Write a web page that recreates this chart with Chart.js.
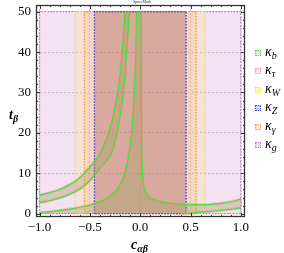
<!DOCTYPE html>
<html><head><meta charset="utf-8">
<script src="https://cdn.jsdelivr.net/npm/chart.js@4.4.1/dist/chart.umd.min.js"></script>
<style>
html,body{margin:0;padding:0;background:#fff;}
#wrap{position:relative;width:284px;height:253px;overflow:hidden;}
canvas{position:absolute;left:0;top:0;}
.lbl{position:absolute;font-family:"Liberation Serif","DejaVu Serif",serif;font-style:italic;font-weight:bold;color:#000;white-space:nowrap;line-height:1;font-size:14px;}
.lbl sub{font-size:10px;vertical-align:-3px;}
#title{position:absolute;left:0;width:284px;top:0;text-align:center;font-family:"Liberation Serif",serif;font-size:4px;line-height:4px;color:#333;}
#legend{position:absolute;left:254px;top:0;width:30px;height:253px;}
.li{position:absolute;left:0;height:14px;width:30px;font-family:"Liberation Serif",serif;font-style:italic;font-size:14px;line-height:14px;color:#000;white-space:nowrap;}
.sw{position:absolute;left:1px;top:5px;width:4px;height:4px;border:1px dotted;}
.tx{position:absolute;left:11px;top:0;}
.tx sub{font-size:10px;vertical-align:-3px;}
</style></head>
<body><div id="wrap"><canvas id="c" width="284" height="253"></canvas>
<div id="title">SpaceMath</div>
<div class="lbl" style="left:9px;top:108px;">t<sub>β</sub></div>
<div class="lbl" style="left:131px;top:238px;">c<sub>αβ</sub></div>
<div id="legend"></div></div>
<script>
// ---- tick labels ----
const xTicks = [-1, -0.5, 0, 0.5, 1];
const yTicks = [0, 10, 20, 30, 40, 50];

// ---- vertical band limits (c_αβ) and tβ range ----
const tRange = [0, 50];
const kgRange = [-1, 1];          // κ_g
const kWRange = [-0.645, 0.645];  // κ_W
const kGammaRange = [-0.555, 0.555]; // κ_γ
const kZRange = [-0.455, 0.455];  // κ_Z

// ---- κ_b / κ_τ wrong-sign band (left) ----
const bandAUpperC = [-1.0, -0.9, -0.8, -0.7, -0.6, -0.5, -0.4, -0.32, -0.27, -0.224, -0.2, -0.18, -0.163, -0.15];
const bandAUpperT = [4.6, 5.2, 6.0, 7.2, 8.9, 11.6, 14.8, 19.5, 24, 30, 34.5, 40, 45, 50];
const bandALowerC = [-1.0, -0.9, -0.8, -0.7, -0.6, -0.5, -0.456, -0.4, -0.3, -0.24, -0.2, -0.169, -0.15, -0.135, -0.12, -0.109];
const bandALowerT = [2.7, 3.2, 3.9, 4.8, 6.1, 8.2, 9.5, 11.3, 14.2, 19, 24, 30, 34.5, 40, 45, 50];

// ---- κ_b / κ_τ central band ----
const bandBLeftC = [-1.0, -0.9, -0.8, -0.7, -0.6, -0.5, -0.45, -0.4, -0.35, -0.3, -0.25, -0.2, -0.16, -0.12, -0.09, -0.07, -0.055, -0.045, -0.035];
const bandBLeftT = [0.3, 0.5, 0.8, 1.15, 1.6, 2.15, 2.6, 3.0, 3.5, 4.3, 5.4, 7.2, 9.5, 13.5, 19, 25, 32, 40, 50];
const bandBRightC = [0.008, 0.01, 0.012, 0.015, 0.02, 0.03, 0.045, 0.07, 0.1, 0.15, 0.2, 0.3, 0.45, 0.6, 0.7, 0.8, 0.9, 1.0];
const bandBRightT = [50, 35, 25, 17, 11.5, 7.8, 5.8, 4.6, 3.9, 3.3, 3.0, 2.55, 2.3, 2.2, 2.3, 2.55, 2.95, 3.6];
const bandBBottomC = [1.0, 0.9, 0.8, 0.7, 0.6, 0.5, 0.42];
const bandBBottomT = [1.45, 1.1, 0.8, 0.55, 0.33, 0.15, 0];

// ---- legend ----
const legendSubs = ['b', 'τ', 'W', 'Z', 'γ', 'g'];
const legendBorder = ['rgb(80,220,70)', 'rgb(255,150,150)', 'rgb(245,225,60)', 'rgb(70,70,240)', 'rgb(255,160,70)', 'rgb(200,120,210)'];
const legendFill = ['rgba(80,220,70,0.25)', 'rgba(255,150,150,0.25)', 'rgba(245,225,60,0.25)', 'rgba(70,70,240,0.25)', 'rgba(255,160,70,0.25)', 'rgba(200,120,210,0.25)'];

// ---- helpers ----
const pts = (cs, ts) => cs.map((c, i) => ({x: c, y: ts[i]}));
const rect = (r) => [{x: r[0], y: tRange[0]}, {x: r[0], y: tRange[1]}, {x: r[1], y: tRange[1]}, {x: r[1], y: tRange[0]}, {x: r[0], y: tRange[0]}];
const bandA = pts(bandAUpperC, bandAUpperT).concat(pts(bandALowerC, bandALowerT).reverse());
bandA.push(bandA[0]);
const bandB = [{x: kgRange[0], y: tRange[0]}]
  .concat(pts(bandBLeftC, bandBLeftT), pts(bandBRightC, bandBRightT), pts(bandBBottomC, bandBBottomT));
bandB.push(bandB[0]);

const region = (data, fill, border, order, dash) => ({
  data, fill: 'shape', backgroundColor: fill, borderColor: border, borderWidth: 1.3,
  borderDash: dash, pointRadius: 0, tension: 0, order
});
const curve = (data, color, w, order, dash) => ({
  data, fill: false, borderColor: color, borderWidth: w, borderDash: dash || [],
  pointRadius: 0, tension: 0.3, order
});

const dot = [1.5, 1.5];
const datasets = [
  region(rect(kgRange), 'rgba(190,110,190,0.2)', 'rgb(200,120,210)', 20, dot),
  region(rect(kWRange), 'rgba(255,230,120,0.2)', 'rgb(245,225,60)', 19, dot),
  region(rect(kGammaRange), 'rgba(255,150,60,0.15)', 'rgb(255,150,50)', 18, dot),
  region(rect(kZRange), 'rgba(135,50,65,0.27)', 'rgb(60,60,240)', 17, dot),
  Object.assign(region(bandA, 'rgba(255,120,120,0.22)', 'rgba(0,0,0,0)', 16, []), {borderWidth: 0, tension: 0.3}),
  Object.assign(region(bandB, 'rgba(255,120,120,0.22)', 'rgba(0,0,0,0)', 16, []), {borderWidth: 0, tension: 0.3}),
  Object.assign(region(bandA, 'rgba(80,200,80,0.2)', 'rgba(0,0,0,0)', 15, []), {borderWidth: 0, tension: 0.3}),
  Object.assign(region(bandB, 'rgba(80,200,80,0.2)', 'rgba(0,0,0,0)', 15, []), {borderWidth: 0, tension: 0.3}),
];
[[bandAUpperC, bandAUpperT], [bandALowerC, bandALowerT], [bandBLeftC, bandBLeftT], [bandBRightC, bandBRightT], [bandBBottomC, bandBBottomT]]
  .forEach(([c, t]) => {
    datasets.push(curve(pts(c, t), 'rgba(255,130,130,0.35)', 3, 10));
    datasets.push(curve(pts(c, t), 'rgb(70,225,60)', 1.2, 5));
  });

const fmtX = v => (v < 0 ? '\u2212' : '') + Math.abs(v).toFixed(1);

const framePlugin = {
  id: 'frame',
  afterDatasetsDraw(chart) {
    const {ctx, chartArea: a, scales: {x, y}} = chart;
    ctx.save();
    ctx.strokeStyle = '#333';
    ctx.lineWidth = 1;
    ctx.beginPath();
    const xv = x.ticks.map(t => t.value), yv = y.ticks.map(t => t.value);
    const drawX = (v, len) => { const p = Math.round(x.getPixelForValue(v)) + 0.5; ctx.moveTo(p, a.bottom); ctx.lineTo(p, a.bottom - len); ctx.moveTo(p, a.top); ctx.lineTo(p, a.top + len); };
    const drawY = (v, len) => { const p = Math.round(y.getPixelForValue(v)) + 0.5; ctx.moveTo(a.left, p); ctx.lineTo(a.left + len, p); ctx.moveTo(a.right, p); ctx.lineTo(a.right - len, p); };
    xv.forEach(v => drawX(v, 4));
    yv.forEach(v => drawY(v, 4));
    for (let i = 0; i < xv.length - 1; i++) for (let k = 1; k < 5; k++) drawX(xv[i] + k * (xv[i + 1] - xv[i]) / 5, 2);
    for (let i = 0; i < yv.length - 1; i++) for (let k = 1; k < 5; k++) drawY(yv[i] + k * (yv[i + 1] - yv[i]) / 5, 2);
    ctx.stroke();
    ctx.lineWidth = 1.3;
    ctx.strokeRect(a.left + 0.5, a.top + 0.5, a.right - a.left - 1, a.bottom - a.top - 1);
    ctx.restore();
  }
};

const tickFont = {family: '"Liberation Serif", "Times New Roman", serif', size: 13};
new Chart(document.getElementById('c'), {
  type: 'line',
  data: {datasets},
  options: {
    responsive: false, animation: false, events: [],
    layout: {padding: {left: 0, top: 5, right: 39, bottom: 0}},
    plugins: {legend: {display: false}, tooltip: {enabled: false}},
    scales: {
      x: {
        type: 'linear', min: -1.035, max: 1.04,
        afterBuildTicks: ax => { ax.ticks = xTicks.map(v => ({value: v})); },
        afterFit: ax => { ax.height = 36; ax.paddingLeft = 0; ax.paddingRight = 0; },
        grid: {color: 'rgba(110,90,110,0.35)', lineWidth: 1, drawTicks: false},
        border: {display: false, dash: [2, 2]},
        ticks: {padding: 3, color: '#000', font: tickFont, maxRotation: 0, autoSkip: false, callback: v => fmtX(v)}
      },
      y: {
        type: 'linear', min: -0.82, max: 51.66,
        afterBuildTicks: ax => { ax.ticks = yTicks.map(v => ({value: v})); },
        afterFit: ax => { ax.width = 36; ax.paddingTop = 0; ax.paddingBottom = 0; },
        grid: {color: 'rgba(110,90,110,0.35)', lineWidth: 1, drawTicks: false},
        border: {display: false, dash: [2, 2]},
        ticks: {padding: 5, color: '#000', font: tickFont, autoSkip: false, callback: v => String(v)}
      }
    }
  },
  plugins: [framePlugin]
});

// HTML legend (needs subscripts)
const leg = document.getElementById('legend');
legendSubs.forEach((s, i) => {
  const row = document.createElement('div');
  row.className = 'li';
  row.style.top = (45 + i * 18.4) + 'px';
  row.innerHTML = '<span class="sw" style="border-color:' + legendBorder[i] + ';background:' + legendFill[i] + '"></span><span class="tx">κ<sub>' + s + '</sub></span>';
  leg.appendChild(row);
});
</script>
</body></html>
